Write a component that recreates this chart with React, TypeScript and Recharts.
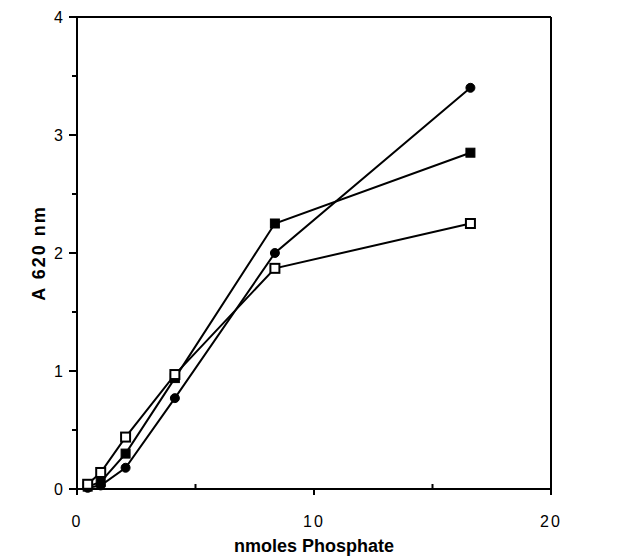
import { LineChart, Line, XAxis, YAxis, ReferenceLine, Label } from 'recharts';

// nmoles phosphate (x) and A620 readings for the three series
const phosphate = [0.45, 1.0, 2.05, 4.13, 8.35, 16.6];
const filledCircle = [0.01, 0.03, 0.18, 0.77, 2.0, 3.4];
const filledSquare = [0.02, 0.06, 0.3, 0.94, 2.25, 2.85];
const openSquare = [0.04, 0.14, 0.44, 0.97, 1.87, 2.25];

const xTicks = [0, 5, 10, 15, 20];
const yTicks = [0, 0.5, 1, 1.5, 2, 2.5, 3, 3.5, 4];

const data = phosphate.map((x, i) => ({
  x,
  circle: filledCircle[i],
  square: filledSquare[i],
  open: openSquare[i],
}));

const font = '"Liberation Sans", Arial, sans-serif';

const XTick = (props: any) => {
  const { x, y, payload } = props;
  const major = payload.value % 10 === 0;
  return (
    <g>
      <line x1={x} x2={x} y1={major ? y : y - 5} y2={major ? y + 6 : y} stroke="#000" strokeWidth={2} />
      {major && (
        <text x={x} y={y + 38} textAnchor="middle" fontSize={16} fontFamily={font} letterSpacing={2} fill="#000">
          {payload.value}
        </text>
      )}
    </g>
  );
};

const YTick = (props: any) => {
  const { x, y, payload } = props;
  const major = Number.isInteger(payload.value);
  return (
    <g>
      <line x1={major ? x - 8 : x - 5} x2={x} y1={y} y2={y} stroke="#000" strokeWidth={2} />
      {major && (
        <text x={x - 14} y={y + 6} textAnchor="end" fontSize={16} fontFamily={font} fill="#000">
          {payload.value}
        </text>
      )}
    </g>
  );
};

const CircleDot = (props: any) => (
  <circle key={`c${props.index}`} cx={props.cx} cy={props.cy} r={4.5} fill="#000" stroke="#000" />
);
const SquareDot = (props: any) => (
  <rect key={`s${props.index}`} x={props.cx - 4.5} y={props.cy - 4.5} width={9} height={9} fill="#000" stroke="#000" />
);
const OpenDot = (props: any) => (
  <rect key={`o${props.index}`} x={props.cx - 4.5} y={props.cy - 4.5} width={9} height={9} fill="#fff" stroke="#000" strokeWidth={2} />
);

export default function App() {
  return (
    <div style={{ position: 'absolute', left: 0, top: 0 }}>
      <LineChart width={622} height={556} data={data} margin={{ top: 17, right: 71, left: 0, bottom: 0 }}>
        <XAxis
          dataKey="x"
          type="number"
          domain={[0, 20]}
          ticks={xTicks}
          interval={0}
          height={67}
          tickSize={0}
          tickMargin={0}
          tick={<XTick />}
          axisLine={{ stroke: '#000', strokeWidth: 2 }}
        >
          <Label
            value="nmoles Phosphate"
            position="insideBottom"
            offset={4}
            style={{ fontFamily: font, fontSize: 18, fontWeight: 'bold', fill: '#000' }}
          />
        </XAxis>
        <YAxis
          type="number"
          domain={[0, 4]}
          ticks={yTicks}
          interval={0}
          width={77}
          tickSize={0}
          tickMargin={0}
          tick={<YTick />}
          axisLine={{ stroke: '#000', strokeWidth: 2 }}
        >
          <Label
            content={({ viewBox }: any) => {
              const cx = viewBox.x + 40;
              const cy = viewBox.y + viewBox.height / 2;
              return (
                <text
                  x={cx}
                  y={cy}
                  transform={`rotate(-90 ${cx} ${cy})`}
                  textAnchor="middle"
                  dominantBaseline="middle"
                  fontFamily={font}
                  fontSize={18}
                  fontWeight="bold"
                  letterSpacing={2}
                  fill="#000"
                >
                  A 620 nm
                </text>
              );
            }}
          />
        </YAxis>
        <ReferenceLine y={4} stroke="#000" strokeWidth={2} />
        <ReferenceLine x={20} stroke="#000" strokeWidth={2} />
        <Line dataKey="circle" stroke="#000" strokeWidth={2} dot={CircleDot} activeDot={false} isAnimationActive={false} />
        <Line dataKey="square" stroke="#000" strokeWidth={2} dot={SquareDot} activeDot={false} isAnimationActive={false} />
        <Line dataKey="open" stroke="#000" strokeWidth={2} dot={OpenDot} activeDot={false} isAnimationActive={false} />
      </LineChart>
    </div>
  );
}
